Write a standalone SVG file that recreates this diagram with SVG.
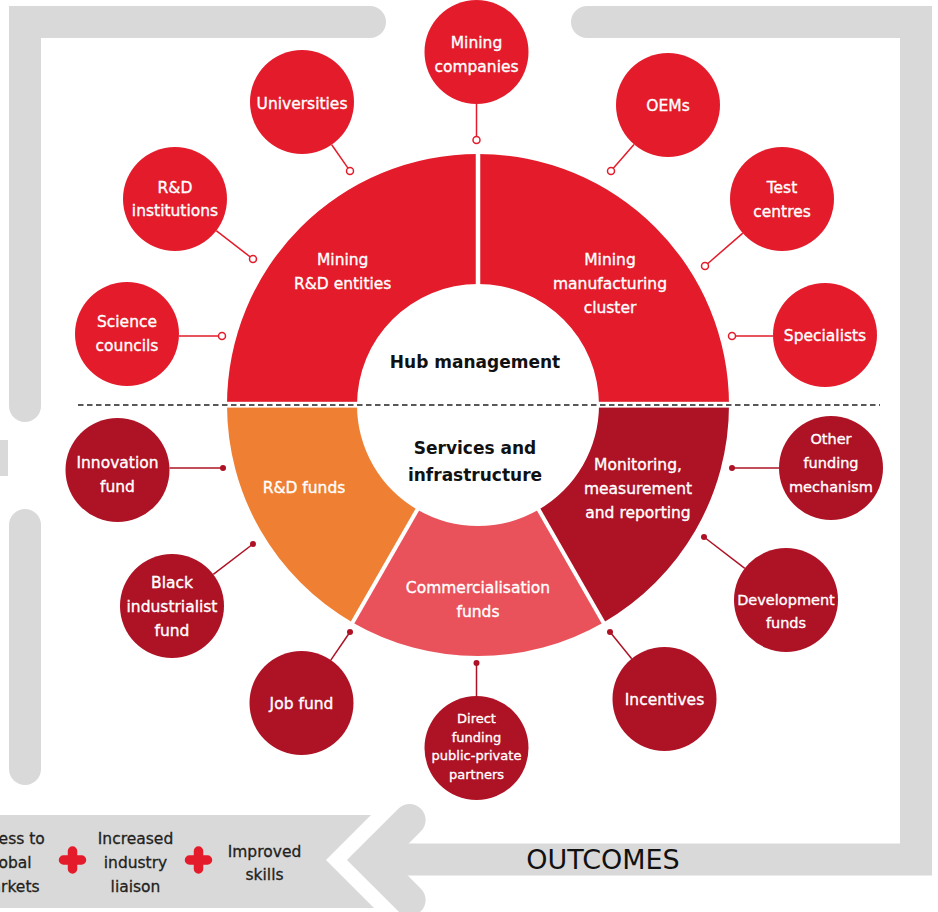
<svg xmlns="http://www.w3.org/2000/svg" width="938" height="912" viewBox="0 0 938 912">
<style>
.frame{fill:none;stroke:#D9D9D9;stroke-width:32}
.lbl{font-family:"DejaVu Sans",sans-serif;font-size:15.5px;fill:#fff;stroke:#fff;stroke-width:0.35;text-anchor:middle}
.sm{font-size:14.5px}
.xs{font-size:13px}
.ctr{font-family:"DejaVu Sans",sans-serif;font-size:17px;font-weight:bold;fill:#111;text-anchor:middle}
.out{font-family:"DejaVu Sans",sans-serif;font-size:15.5px;fill:#231F20;stroke:#231F20;stroke-width:0.3;text-anchor:middle}
.red{fill:#E31B2A}
.dark{fill:#AE1225}
.lr{stroke:#E31B2A;stroke-width:1.5;fill:none}
.ld{stroke:#AE1225;stroke-width:1.5;fill:none}
.od{fill:#fff;stroke:#E31B2A;stroke-width:1.5}
.fd{fill:#AE1225}
</style>
<rect width="938" height="912" fill="#fff"/>
<g id="frame">
<path class="frame" d="M370,22 H25 V406" stroke-linecap="round" stroke-linejoin="miter"/>
<path class="frame" d="M25,525 V769" stroke-linecap="round"/>
<rect x="0" y="440" width="8" height="36" fill="#D9D9D9"/>
<path class="frame" d="M587,22 H916 V859.5 H380" stroke-linejoin="miter"/>
<path d="M587,6 A16,16 0 0 0 587,38 Z" fill="#D9D9D9"/>
<polyline class="frame" points="409.6,820 369.6,860 409.6,900" stroke-linecap="round" stroke-linejoin="miter"/>
<polygon points="0,815 371,815 326,860 374,908 0,908" fill="#D9D9D9"/>
</g>
<g id="donut">
<path class="red" d="M227,405 A251,251 0 0 1 478,154 L478,284 A121,121 0 0 0 357,405 Z"/>
<path class="red" d="M478,154 A251,251 0 0 1 729,405 L599,405 A121,121 0 0 0 478,284 Z"/>
<path fill="#EF8033" d="M227,405 A251,251 0 0 0 352.5,622.4 L417.5,509.8 A121,121 0 0 1 357,405 Z"/>
<path fill="#E9525B" d="M352.5,622.4 A251,251 0 0 0 603.5,622.4 L538.5,509.8 A121,121 0 0 1 417.5,509.8 Z"/>
<path class="dark" d="M603.5,622.4 A251,251 0 0 0 729,405 L599,405 A121,121 0 0 1 538.5,509.8 Z"/>
<line x1="478" y1="150" x2="478" y2="290" stroke="#fff" stroke-width="4.5"/>
<line x1="420" y1="505" x2="350" y2="627" stroke="#fff" stroke-width="4"/>
<line x1="536" y1="505" x2="606" y2="627" stroke="#fff" stroke-width="4"/>
<rect x="220" y="401.8" width="516" height="5.8" fill="#fff"/>
<line x1="78" y1="405" x2="880" y2="405" stroke="#222" stroke-width="1.5" stroke-dasharray="5.5 3.5"/>
<text class="lbl" x="342.7" y="265">Mining</text>
<text class="lbl" x="342.7" y="289">R&amp;D entities</text>
<text class="lbl" x="610" y="264.6">Mining</text>
<text class="lbl" x="610" y="288.6">manufacturing</text>
<text class="lbl" x="610" y="312.6">cluster</text>
<text class="lbl" x="304" y="492.6">R&amp;D funds</text>
<text class="lbl" x="478" y="592.6">Commercialisation</text>
<text class="lbl" x="478" y="616.6">funds</text>
<text class="lbl" x="638" y="469.6">Monitoring,</text>
<text class="lbl" x="638" y="493.6">measurement</text>
<text class="lbl" x="638" y="517.6">and reporting</text>
<text class="ctr" x="475" y="368">Hub management</text>
<text class="ctr" x="475" y="454">Services and</text>
<text class="ctr" x="475" y="481">infrastructure</text>
</g>
<g id="connectors">
<line class="lr" x1="476.5" y1="104" x2="476.5" y2="136.5"/>
<circle class="od" cx="476.5" cy="140" r="3.5"/>
<line class="lr" x1="331.7" y1="144.7" x2="348" y2="168.1"/>
<circle class="od" cx="350" cy="171" r="3.5"/>
<line class="lr" x1="216.2" y1="230.7" x2="250.2" y2="256.9"/>
<circle class="od" cx="253" cy="259" r="3.5"/>
<line class="lr" x1="179" y1="336" x2="218.5" y2="336"/>
<circle class="od" cx="222" cy="336" r="3.5"/>
<line class="lr" x1="634" y1="144.4" x2="613.3" y2="168.3"/>
<circle class="od" cx="611" cy="171" r="3.5"/>
<line class="lr" x1="742.8" y1="233.1" x2="707.6" y2="263.7"/>
<circle class="od" cx="705" cy="266" r="3.5"/>
<line class="lr" x1="773" y1="336" x2="735.5" y2="336"/>
<circle class="od" cx="732" cy="336" r="3.5"/>
<line class="ld" x1="169.5" y1="468" x2="223" y2="468"/>
<circle class="fd" cx="223" cy="468" r="3"/>
<line class="ld" x1="213.3" y1="574.4" x2="253" y2="544"/>
<circle class="fd" cx="253" cy="544" r="3"/>
<line class="ld" x1="330.8" y1="660.1" x2="350" y2="632"/>
<circle class="fd" cx="350" cy="632" r="3"/>
<line class="ld" x1="476.5" y1="696" x2="476.5" y2="663"/>
<circle class="fd" cx="476.5" cy="663" r="3"/>
<line class="ld" x1="631.7" y1="658.7" x2="610" y2="632"/>
<circle class="fd" cx="610" cy="632" r="3"/>
<line class="ld" x1="744.8" y1="568.3" x2="704" y2="537"/>
<circle class="fd" cx="704" cy="537" r="3"/>
<line class="ld" x1="779" y1="468" x2="732" y2="468"/>
<circle class="fd" cx="732" cy="468" r="3"/>
</g>
<g id="mining-companies"><circle class="red" cx="476.5" cy="52" r="52"/><text class="lbl" x="476.5" y="47.6">Mining</text><text class="lbl" x="476.5" y="71.6">companies</text></g>
<g id="universities"><circle class="red" cx="302" cy="102" r="52"/><text class="lbl" x="302" y="108.6">Universities</text></g>
<g id="rd-institutions"><circle class="red" cx="175" cy="199" r="52"/><text class="lbl" x="175" y="193">R&amp;D</text><text class="lbl" x="175" y="216.3">institutions</text></g>
<g id="science-councils"><circle class="red" cx="127" cy="334" r="52"/><text class="lbl" x="127" y="327.3">Science</text><text class="lbl" x="127" y="350.6">councils</text></g>
<g id="oems"><circle class="red" cx="668" cy="105" r="52"/><text class="lbl" x="668" y="110.6">OEMs</text></g>
<g id="test-centres"><circle class="red" cx="782" cy="199" r="52"/><text class="lbl" x="782" y="193.3">Test</text><text class="lbl" x="782" y="217.3">centres</text></g>
<g id="specialists"><circle class="red" cx="825" cy="335" r="52"/><text class="lbl" x="825" y="341">Specialists</text></g>
<g id="innovation-fund"><circle class="dark" cx="117.5" cy="470" r="52"/><text class="lbl" x="117.5" y="468.3">Innovation</text><text class="lbl" x="117.5" y="492.3">fund</text></g>
<g id="black-industrialist-fund"><circle class="dark" cx="172" cy="606" r="52"/><text class="lbl" x="172" y="588.3">Black</text><text class="lbl" x="172" y="612.3">industrialist</text><text class="lbl" x="172" y="635.6">fund</text></g>
<g id="job-fund"><circle class="dark" cx="301.5" cy="703" r="52"/><text class="lbl" x="301.5" y="708.6">Job fund</text></g>
<g id="direct-funding"><circle class="dark" cx="476.5" cy="748" r="52"/><text class="lbl xs" x="476.5" y="722.7">Direct</text><text class="lbl xs" x="476.5" y="741.7">funding</text><text class="lbl xs" x="476.5" y="759.7">public-private</text><text class="lbl xs" x="476.5" y="778.7">partners</text></g>
<g id="incentives"><circle class="dark" cx="664.5" cy="699" r="52"/><text class="lbl" x="664.5" y="704.6">Incentives</text></g>
<g id="development-funds"><circle class="dark" cx="786" cy="600" r="52"/><text class="lbl sm" x="786" y="604.6">Development</text><text class="lbl sm" x="786" y="628">funds</text></g>
<g id="other-funding"><circle class="dark" cx="831" cy="468" r="52"/><text class="lbl sm" x="831" y="444">Other</text><text class="lbl sm" x="831" y="468">funding</text><text class="lbl sm" x="831" y="492">mechanism</text></g>
<g id="outcomes">
<text class="out" x="8" y="843.6">Access to</text>
<text class="out" x="8" y="867.6">global</text>
<text class="out" x="8" y="891.6">markets</text>
<path d="M63.5,860 H81.5 M72.5,851 V869" stroke="#E31B2A" stroke-width="9.5" stroke-linecap="round"/>
<text class="out" x="135.5" y="843.6">Increased</text>
<text class="out" x="135.5" y="867.6">industry</text>
<text class="out" x="135.5" y="891.6">liaison</text>
<path d="M189.5,860 H207.5 M198.5,851 V869" stroke="#E31B2A" stroke-width="9.5" stroke-linecap="round"/>
<text class="out" x="264.5" y="856.6">Improved</text>
<text class="out" x="264.5" y="879.6">skills</text>
<text x="603" y="869" font-family="DejaVu Sans, sans-serif" font-size="27" fill="#111" text-anchor="middle">OUTCOMES</text>
</g>
</svg>
